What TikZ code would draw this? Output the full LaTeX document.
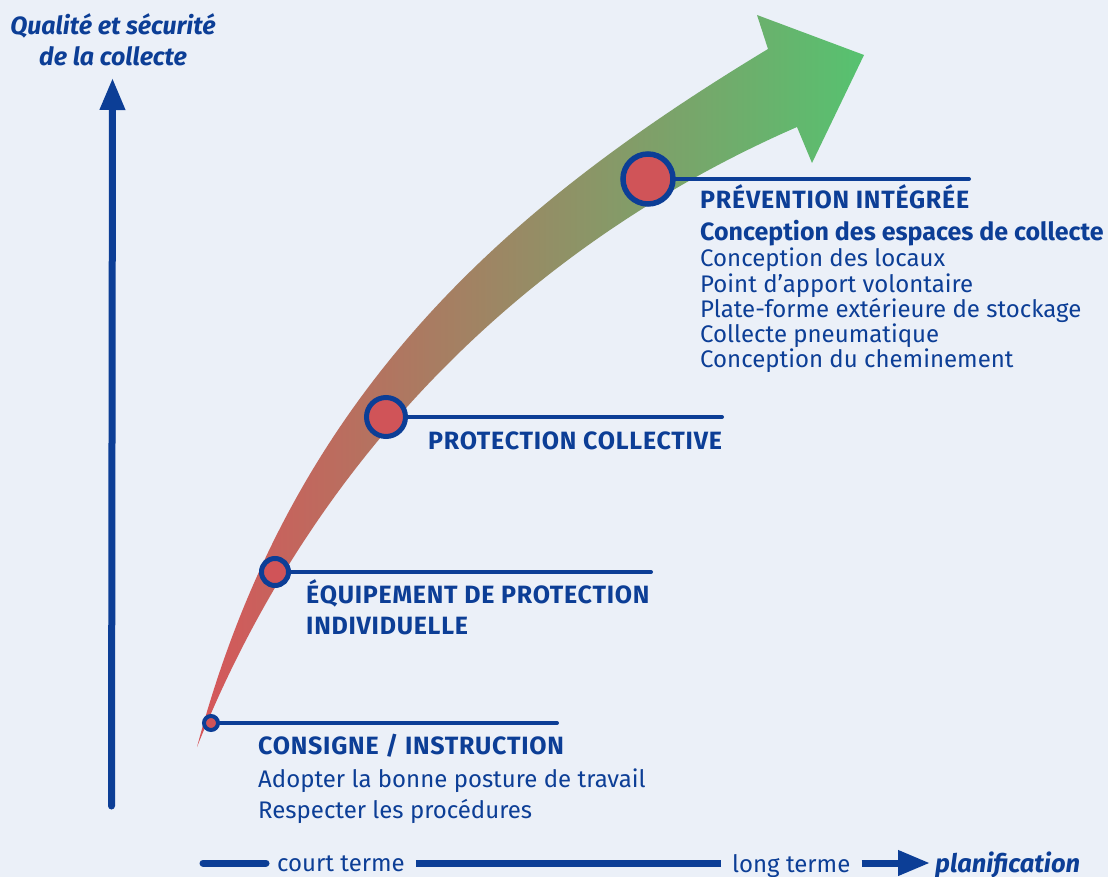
\documentclass[tikz,border=0pt]{standalone}
\usepackage{fontspec}
\setmainfont{Fira Sans}
\usetikzlibrary{arrows.meta}
\definecolor{bg}{RGB}{235,240,248}
\definecolor{navy}{RGB}{12,62,150}
\definecolor{dotred}{RGB}{208,84,88}
\definecolor{bandred}{RGB}{214,86,90}
\definecolor{bandgreen}{RGB}{86,194,112}

\begin{document}
\begin{tikzpicture}[x=1pt,y=-1pt,
  lvl/.style={font=\bfseries\fontsize{25}{25}\selectfont\addfontfeatures{LetterSpace=3}, text=navy, inner sep=0, anchor=base west},
  sub/.style={font=\bfseries\fontsize{25}{25}\selectfont, text=navy, inner sep=0, anchor=base west},
  item/.style={font=\fontsize{24}{25}\selectfont, text=navy, inner sep=0, anchor=base west},
  axislbl/.style={font=\fontsize{24}{25}\selectfont, text=navy, inner xsep=11pt, inner ysep=0, anchor=base west},
  axistitle/.style={font=\bfseries\itshape\fontsize{25}{25}\selectfont, text=navy, inner sep=0},
  dot/.style={circle, fill=dotred, draw=navy, inner sep=0},
  leader/.style={navy, line width=4pt, line cap=round},
  axisline/.style={navy, line width=7pt},
]
% backdrop and fixed frame
\fill[bg] (0,0) rectangle (1108,877);
\useasboundingbox (0,0) rectangle (1108,877);

% rising band, red to green, with its arrow head
\shade[left color=bandred, right color=bandgreen]
  (197,747) .. controls (292,390) and (510,205) .. (768,49)
  -- (757,15) -- (864,55) -- (812,163) -- (797,127)
  .. controls (545,237) and (320,440) .. (197,747)
  -- cycle;

% vertical axis
\coordinate (v0) at (111.5,806);
\coordinate (v1) at (112.5,78);
\draw[axisline, line cap=round, -{Triangle[width=24pt,length=32pt]}] (v0) -- (v1);
\node[axistitle, align=center] (ytitle) at (113,40) {Qualité et sécurité\\[6pt]de la collecte};

% horizontal axis
\coordinate (h0) at (203,863);
\node[axislbl] (court) at (266,871) {court terme};
\node[axislbl] (long) at (721,872) {long terme};
\node[axistitle, anchor=base west, inner xsep=5pt, font=\bfseries\itshape\fontsize{25.5}{25}\selectfont] (plan) at (930,872) {planification};
\draw[axisline, line cap=round] (h0) -- (h0 -| court.west);
\draw[axisline] (h0 -| court.east) -- (h0 -| long.west);
\draw[axisline, -{Triangle[width=24pt,length=32pt]}] (h0 -| long.east) -- (h0 -| plan.west);

% milestones on the band
\node[dot, line width=4pt, minimum size=14pt] (c1) at (211,723) {};
\node[dot, line width=5pt, minimum size=27pt] (c2) at (275,572) {};
\node[dot, line width=5pt, minimum size=39pt] (c3) at (386,417) {};
\node[dot, line width=5.5pt, minimum size=50pt] (c4) at (648,179) {};

\coordinate (e1) at (557,723);
\coordinate (e2) at (651,572);
\coordinate (e3) at (722,417);
\coordinate (e4) at (969,179);
\draw[leader] (c1.east) -- (e1);
\draw[leader] (c2.east) -- (e2);
\draw[leader] (c3.east) -- (e3);
\draw[leader] (c4.east) -- (e4);

% level 1
\node[lvl] (t1) at (258,754) {CONSIGNE / INSTRUCTION};
\node[item] (t1a) at (258,787) {Adopter la bonne posture de travail};
\node[item] (t1b) at (258,818) {Respecter les procédures};

% level 2
\node[lvl] (t2) at (306,603) {ÉQUIPEMENT DE PROTECTION};
\node[lvl] (t2b) at (306,634) {INDIVIDUELLE};

% level 3
\node[lvl] (t3) at (428,449) {PROTECTION COLLECTIVE};

% level 4
\node[lvl] (t4) at (700,209) {PRÉVENTION INTÉGRÉE};
\node[sub] (t4s) at (700,241) {Conception des espaces de collecte};
\node[item] (t4a) at (700,267) {Conception des locaux};
\node[item] (t4b) at (700,292) {Point d’apport volontaire};
\node[item] (t4c) at (700,317) {Plate-forme extérieure de stockage};
\node[item] (t4d) at (700,342) {Collecte pneumatique};
\node[item] (t4e) at (700,367) {Conception du cheminement};
\end{tikzpicture}
\end{document}
